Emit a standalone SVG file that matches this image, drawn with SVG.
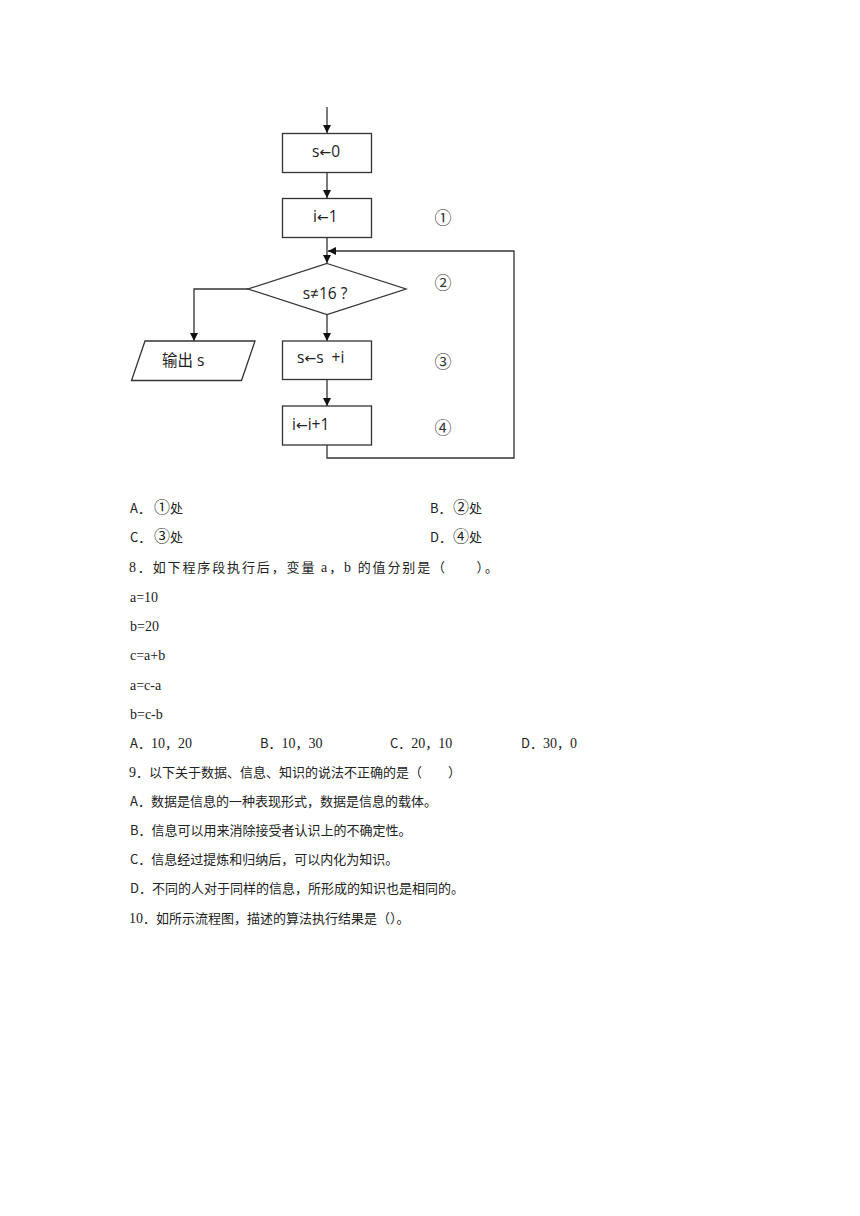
<svg xmlns="http://www.w3.org/2000/svg" width="860" height="1216" viewBox="0 0 860 1216">
<defs>
<marker id="ah" viewBox="0 0 10 10" refX="10" refY="5" markerWidth="8" markerHeight="8" markerUnits="userSpaceOnUse" orient="auto">
<path d="M0,0 L10,5 L0,10 z" fill="#111"/>
</marker>
<style>
.shape{fill:#fff;stroke:#333;stroke-width:1.3}
.line{fill:none;stroke:#333;stroke-width:1.3}
.fc{font-family:"Open Sans","Liberation Sans","Noto Sans CJK SC",sans-serif;font-size:15.5px;fill:#222}
.arr{font-family:"DejaVu Sans",sans-serif;font-size:14px}
.num{font-family:"Noto Sans CJK SC",sans-serif;font-size:17px;fill:#333}
.opt{font-family:"Noto Sans CJK SC",sans-serif;font-size:13px;fill:#222}
.cn{font-family:"Noto Sans CJK SC",sans-serif;font-size:13px;fill:#222}
.lat{font-family:"Liberation Serif",serif;font-size:14px}
.circ{font-family:"Noto Sans CJK SC",sans-serif;font-size:16px}
.code{font-family:"Liberation Serif",serif;font-size:14px;fill:#222}
</style>
</defs>
<rect width="860" height="1216" fill="#fff"/>
<g id="connectors">
<line class="line" x1="327" y1="107" x2="327" y2="133" marker-end="url(#ah)"/>
<line class="line" x1="327" y1="172" x2="327" y2="198" marker-end="url(#ah)"/>
<line class="line" x1="327" y1="237" x2="327" y2="263" marker-end="url(#ah)"/>
<line class="line" x1="327" y1="314" x2="327" y2="341" marker-end="url(#ah)"/>
<line class="line" x1="327" y1="379" x2="327" y2="406" marker-end="url(#ah)"/>
<polyline class="line" points="248,289 194,289 194,341" marker-end="url(#ah)"/>
<polyline class="line" points="327,445 327,458 514,458 514,251 328,251" marker-end="url(#ah)"/>
</g>
<g id="n-s0">
<rect class="shape" x="282.5" y="133.5" width="89" height="39"/>
<text class="fc" x="312" y="157">s<tspan class="arr">←</tspan>0</text>
</g>
<g id="n-i1">
<rect class="shape" x="282.5" y="198.5" width="89" height="39"/>
<text class="fc" x="313" y="222">i<tspan class="arr">←</tspan>1</text>
</g>
<g id="n-cond">
<polygon class="shape" points="327,263.5 406,289 327,314.5 248,289"/>
<text class="fc" x="325" y="299" text-anchor="middle">s≠16 ?</text>
</g>
<g id="n-out">
<polygon class="shape" points="145,341 255,341 241.5,380.5 131.5,380.5"/>
<text class="fc" x="162" y="366">输出 s</text>
</g>
<g id="n-sum">
<rect class="shape" x="282.5" y="341" width="89" height="38.5"/>
<text class="fc" x="297" y="363" xml:space="preserve">s<tspan class="arr">←</tspan>s  +i</text>
</g>
<g id="n-inc">
<rect class="shape" x="282.5" y="406" width="89" height="39"/>
<text class="fc" x="292" y="430">i<tspan class="arr">←</tspan>i+1</text>
</g>
<g id="labels">
<text class="num" x="443" y="224" text-anchor="middle">①</text>
<text class="num" x="443" y="289" text-anchor="middle">②</text>
<text class="num" x="443" y="368" text-anchor="middle">③</text>
<text class="num" x="443" y="434" text-anchor="middle">④</text>
</g>
<g id="text">
<text class="opt" x="130" y="513">A．<tspan class="circ" x="154">①</tspan>处</text>
<text class="opt" x="430" y="513">B．<tspan class="circ" x="453">②</tspan>处</text>
<text class="opt" x="130" y="542">C．<tspan class="circ" x="154">③</tspan>处</text>
<text class="opt" x="430" y="542">D．<tspan class="circ" x="453">④</tspan>处</text>
<text class="cn" x="129" y="572" textLength="369" lengthAdjust="spacing"><tspan class="lat">8</tspan>．如下程序段执行后，变量 <tspan class="lat">a</tspan>，<tspan class="lat">b</tspan> 的值分别是（　　）。</text>
<text class="code" x="130" y="602">a=10</text>
<text class="code" x="130" y="631">b=20</text>
<text class="code" x="130" y="660">c=a+b</text>
<text class="code" x="130" y="690">a=c-a</text>
<text class="code" x="130" y="719">b=c-b</text>
<text class="opt" x="130" y="748">A．<tspan class="lat">10</tspan>，<tspan class="lat">20</tspan></text>
<text class="opt" x="260" y="748">B．<tspan class="lat">10</tspan>，<tspan class="lat">30</tspan></text>
<text class="opt" x="390" y="748">C．<tspan class="lat">20</tspan>，<tspan class="lat">10</tspan></text>
<text class="opt" x="521" y="748">D．<tspan class="lat">30</tspan>，<tspan class="lat">0</tspan></text>
<text class="cn" x="129" y="777"><tspan class="lat">9</tspan>．以下关于数据、信息、知识的说法不正确的是（　　）</text>
<text class="cn" x="130" y="806">A．数据是信息的一种表现形式，数据是信息的载体。</text>
<text class="cn" x="130" y="835">B．信息可以用来消除接受者认识上的不确定性。</text>
<text class="cn" x="130" y="864">C．信息经过提炼和归纳后，可以内化为知识。</text>
<text class="cn" x="130" y="893">D．不同的人对于同样的信息，所形成的知识也是相同的。</text>
<text class="cn" x="129" y="923"><tspan class="lat">10</tspan>．如所示流程图，描述的算法执行结果是（）。</text>
</g>
</svg>
